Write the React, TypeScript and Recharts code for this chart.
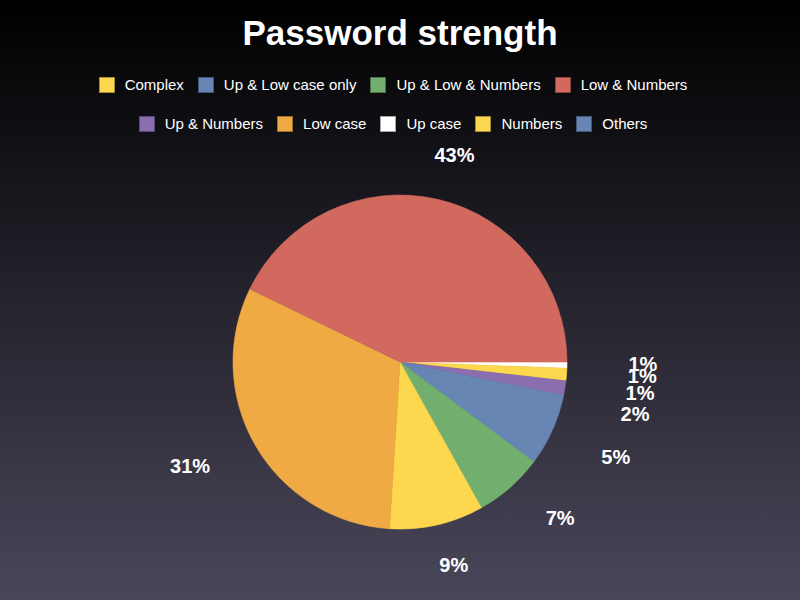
import React from 'react';
import { PieChart, Pie, Cell } from 'recharts';

// Slice order (ascending, drawn clockwise from 3 o'clock)
const categories = [
  'Up case',
  'Complex',
  'Up & Numbers',
  'Others',
  'Up & Low case only',
  'Up & Low & Numbers',
  'Numbers',
  'Low case',
  'Low & Numbers',
];
const values = [0.6, 1.2, 1.4, 1.8, 5.2, 6.7, 9.1, 31.2, 42.8];
const sliceColors = [
  '#FFFFFF',
  '#FDD84E',
  '#8A6EAF',
  '#6886B4',
  '#6886B4',
  '#72AE6E',
  '#FDD84E',
  '#EFAA43',
  '#D1695E',
];

// Legend (original series order)
const legendLabels = [
  'Complex',
  'Up & Low case only',
  'Up & Low & Numbers',
  'Low & Numbers',
  'Up & Numbers',
  'Low case',
  'Up case',
  'Numbers',
  'Others',
];
const legendColors = [
  '#FDD84E',
  '#6886B4',
  '#72AE6E',
  '#D1695E',
  '#8A6EAF',
  '#EFAA43',
  '#FFFFFF',
  '#FDD84E',
  '#6886B4',
];
const legendRows = [
  [0, 1, 2, 3],
  [4, 5, 6, 7, 8],
];

const title = 'Password strength';

const data = categories.map((name, i) => ({ name, value: values[i] }));

const RAD = Math.PI / 180;
const LABEL_RX = 243;
const LABEL_RY = 210;

const renderLabel = (props: any) => {
  const { cx, cy, midAngle, percent } = props;
  const x = cx + LABEL_RX * Math.cos(-midAngle * RAD);
  const y = cy - 2 + LABEL_RY * Math.sin(-midAngle * RAD) + 7;
  return (
    <text
      x={x}
      y={y}
      textAnchor="middle"
      fill="#FFFFFF"
      fontFamily="'Liberation Sans', Arial, sans-serif"
      fontWeight="bold"
      fontSize={20}
    >
      {Math.round(percent * 100) + '%'}
    </text>
  );
};

const font = "'Liberation Sans', Arial, Helvetica, sans-serif";

export default function App() {
  return (
    <div
      style={{
        position: 'absolute',
        left: 0,
        top: 0,
        width: 800,
        height: 600,
        background: 'linear-gradient(to bottom, #000000, #4a465a)',
        overflow: 'hidden',
        fontFamily: font,
      }}
    >
      <div
        style={{
          position: 'absolute',
          top: 12,
          left: 0,
          width: 800,
          textAlign: 'center',
          color: '#FFFFFF',
          fontWeight: 'bold',
          fontSize: 35,
          lineHeight: '42px',
        }}
      >
        {title}
      </div>
      {legendRows.map((row, r) => (
        <div
          key={r}
          style={{
            position: 'absolute',
            top: 77 + r * 39,
            left: 0,
            width: 800,
            display: 'flex',
            justifyContent: 'center',
            alignItems: 'center',
            height: 16,
          }}
        >
          {row.map((idx) => (
            <div
              key={idx}
              style={{ display: 'flex', alignItems: 'center', marginRight: 14 }}
            >
              <div
                style={{
                  width: 14,
                  height: 14,
                  background: legendColors[idx],
                  border: '1px solid rgba(0,0,0,0.35)',
                  marginRight: 10,
                }}
              />
              <span style={{ color: '#FFFFFF', fontSize: 15, lineHeight: '16px' }}>
                {legendLabels[idx]}
              </span>
            </div>
          ))}
        </div>
      ))}
      <div style={{ position: 'absolute', left: 0, top: 0 }}>
        <PieChart width={800} height={600} margin={{ top: 0, right: 0, bottom: 0, left: 0 }}>
          <Pie
            data={data}
            dataKey="value"
            nameKey="name"
            cx={400}
            cy={362}
            outerRadius={167}
            startAngle={0}
            endAngle={-360}
            label={renderLabel}
            labelLine={false}
            isAnimationActive={false}
          >
            {data.map((d, i) => (
              <Cell key={d.name} fill={sliceColors[i]} stroke={sliceColors[i]} strokeWidth={0.6} />
            ))}
          </Pie>
        </PieChart>
      </div>
    </div>
  );
}
